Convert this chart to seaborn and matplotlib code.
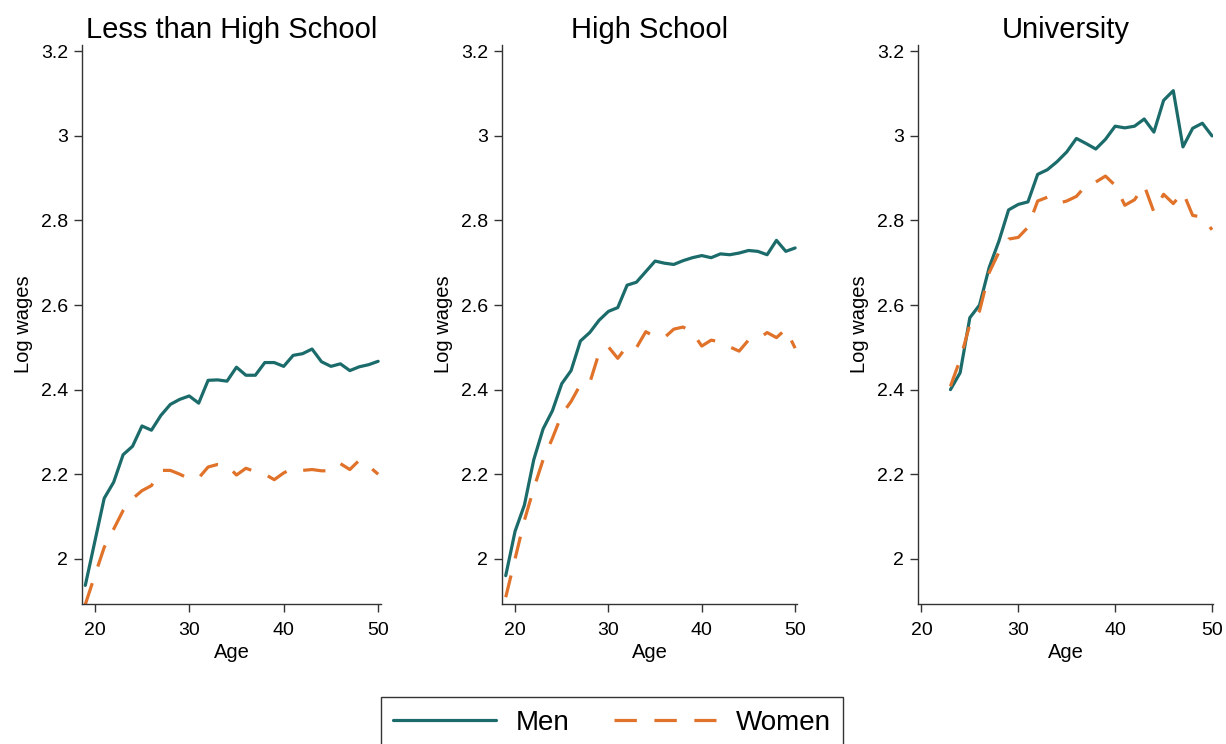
import numpy as np
import pandas as pd
import matplotlib
matplotlib.use("Agg")
import matplotlib.pyplot as plt
import seaborn as sns
from matplotlib.lines import Line2D

# ---------------- data ----------------
panel_titles = ["Less than High School", "High School", "University"]

ages_lhs = list(range(19, 51))
men_lhs = [1.937, 2.040, 2.143, 2.181, 2.246, 2.266, 2.314, 2.304, 2.339, 2.365,
           2.377, 2.385, 2.368, 2.422, 2.423, 2.420, 2.453, 2.434, 2.434, 2.464,
           2.464, 2.455, 2.481, 2.485, 2.496, 2.466, 2.455, 2.461, 2.445, 2.454,
           2.459, 2.467]
women_lhs = [1.892, 1.960, 2.027, 2.070, 2.114, 2.142, 2.161, 2.173, 2.209, 2.209,
             2.200, 2.189, 2.191, 2.217, 2.223, 2.221, 2.198, 2.214, 2.206, 2.200,
             2.187, 2.203, 2.214, 2.209, 2.211, 2.208, 2.208, 2.225, 2.211, 2.233,
             2.219, 2.200]

ages_hs = list(range(19, 51))
men_hs = [1.960, 2.065, 2.127, 2.234, 2.307, 2.350, 2.414, 2.445, 2.515, 2.535,
          2.564, 2.585, 2.594, 2.647, 2.654, 2.679, 2.704, 2.699, 2.696, 2.705,
          2.712, 2.717, 2.712, 2.721, 2.719, 2.723, 2.729, 2.727, 2.719, 2.753,
          2.727, 2.735]
women_hs = [1.909, 2.000, 2.091, 2.166, 2.234, 2.285, 2.341, 2.372, 2.412, 2.416,
            2.487, 2.501, 2.474, 2.503, 2.499, 2.537, 2.525, 2.523, 2.543, 2.548,
            2.535, 2.503, 2.517, 2.513, 2.501, 2.491, 2.517, 2.519, 2.535, 2.523,
            2.543, 2.498]

ages_uni = list(range(23, 51))
men_uni = [2.400, 2.440, 2.570, 2.600, 2.689, 2.751, 2.825, 2.838, 2.844, 2.909,
           2.920, 2.939, 2.962, 2.994, 2.982, 2.969, 2.992, 3.023, 3.019, 3.023,
           3.040, 3.009, 3.084, 3.107, 2.974, 3.018, 3.030, 3.000]
women_uni = [2.408, 2.471, 2.554, 2.586, 2.677, 2.725, 2.756, 2.760, 2.784, 2.846,
             2.855, 2.840, 2.846, 2.857, 2.883, 2.891, 2.905, 2.883, 2.836, 2.849,
             2.883, 2.820, 2.862, 2.840, 2.867, 2.812, 2.808, 2.778]

y_ticks = [2.0, 2.2, 2.4, 2.6, 2.8, 3.0, 3.2]
y_tick_labels = ["2", "2.2", "2.4", "2.6", "2.8", "3", "3.2"]
x_ticks = [20, 30, 40, 50]
groups = ["Men", "Women"]

# ---------------- style ----------------
sns.set_theme(style="ticks")
plt.rcParams["font.family"] = ["Liberation Sans", "DejaVu Sans"]
plt.rcParams["text.color"] = "black"
plt.rcParams["axes.labelcolor"] = "black"

TEAL = "#1c6b6b"
ORANGE = "#e0722a"
palette = {"Men": TEAL, "Women": ORANGE}
dash_pat = (7.0, 5.5)
LW = 2.3

W, H = 1226, 744
fig = plt.figure(figsize=(W / 100, H / 100), dpi=100)
fig.patch.set_facecolor("white")

def px_axes(l, r, t, b):
    return fig.add_axes([l / W, 1 - b / H, (r - l) / W, (b - t) / H])

panels = [
    (ages_lhs, men_lhs, women_lhs, (82, 381), (18.65, 50.3)),
    (ages_hs, men_hs, women_hs, (502, 797), (18.6, 50.2)),
    (ages_uni, men_uni, women_uni, (918, 1213), (19.65, 50.1)),
]

for title, (ages, men, women, (l, r), xl) in zip(panel_titles, panels):
    ax = px_axes(l, r, 45, 604)
    df = pd.DataFrame({
        "Age": list(ages) * 2,
        "Log wages": list(men) + list(women),
        "Sex": ["Men"] * len(ages) + ["Women"] * len(ages),
    })
    sns.lineplot(data=df, x="Age", y="Log wages", hue="Sex", style="Sex",
                 palette=palette, dashes={"Men": "", "Women": dash_pat},
                 linewidth=LW, legend=False, ax=ax)
    ax.set_xlim(*xl)
    ax.set_ylim(1.893, 3.215)
    ax.set_yticks(y_ticks)
    ax.set_yticklabels(y_tick_labels)
    ax.set_xticks(x_ticks)
    ax.set_xticklabels([str(v) for v in x_ticks])
    ax.tick_params(axis="both", labelsize=14, length=6, width=1.0,
                   color="#333333", labelcolor="black")
    ax.tick_params(axis="x", pad=7)
    ax.tick_params(axis="y", pad=4)
    for s in ["top", "right"]:
        ax.spines[s].set_visible(False)
    for s in ["left", "bottom"]:
        ax.spines[s].set_color("#333333")
        ax.spines[s].set_linewidth(1.0)
    ax.set_xlabel("Age", fontsize=14.5, labelpad=3, color="black")
    ax.set_ylabel("Log wages", fontsize=14.5, labelpad=6, color="black")
    ax.set_title(title, fontsize=21, pad=5, color="black")
    ax.set_facecolor("white")

handles = [Line2D([], [], color=TEAL, lw=LW),
           Line2D([], [], color=ORANGE, lw=LW, dashes=dash_pat)]
leg = fig.legend(handles, groups, loc="upper center",
                 bbox_to_anchor=(612 / W, 1 - 697 / H), ncol=2,
                 fontsize=20, frameon=True, fancybox=False,
                 handlelength=3.7, handletextpad=0.7, columnspacing=1.6,
                 borderpad=0.45, borderaxespad=0)
leg.get_frame().set_edgecolor("black")
leg.get_frame().set_linewidth(1.0)
for t in leg.get_texts():
    t.set_color("black")

fig.savefig("out.png", dpi=100, facecolor="white")
